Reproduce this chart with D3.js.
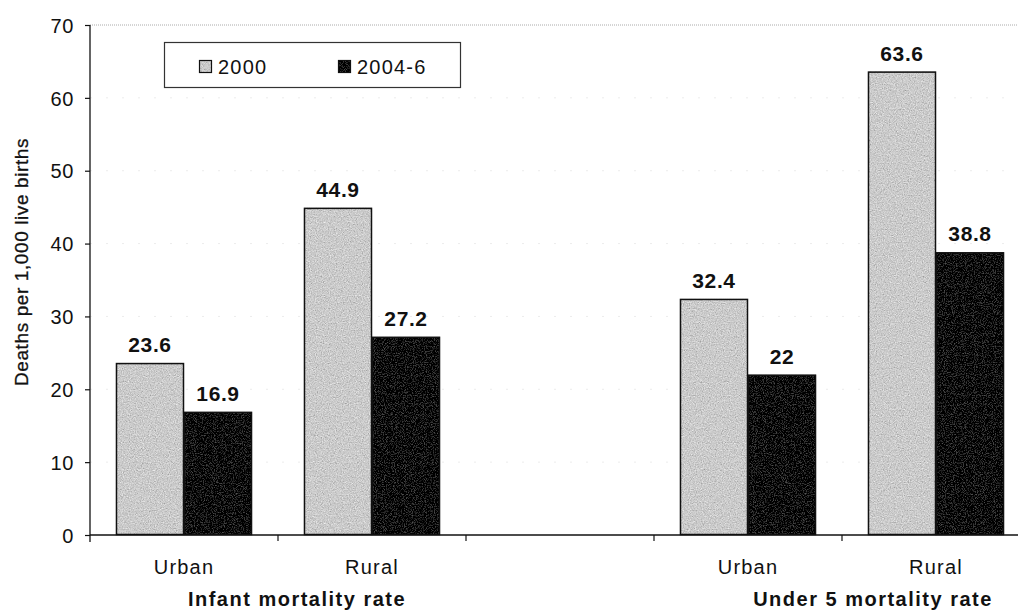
<!DOCTYPE html>
<html>
<head>
<meta charset="utf-8">
<script src="https://cdn.jsdelivr.net/npm/d3@7"></script>
<style>
  html, body { margin: 0; padding: 0; background: #fff; }
  svg { display: block; font-family: "Liberation Sans", Arial, Helvetica, sans-serif; }
</style>
</head>
<body>
<svg id="chart" width="1018" height="612"></svg>
<script>
// Mortality rates (deaths per 1,000 live births) by residence, two survey rounds
const series = ["2000", "2004-6"];
const slots = ["iUrban", "iRural", "gap", "uUrban", "uRural"];
const slotLabels = ["Urban", "Rural", "", "Urban", "Rural"];
const values2000 = [23.6, 44.9, null, 32.4, 63.6];
const values2004 = [16.9, 27.2, null, 22, 38.8];
const groups = ["Infant mortality rate", "Under 5 mortality rate"];
const groupSlots = [["iUrban", "iRural"], ["uUrban", "uRural"]];
const yTicks = [0, 10, 20, 30, 40, 50, 60, 70];
const yTitle = "Deaths per 1,000 live births";

const svg = d3.select("#chart");
const margin = { left: 90, top: 25, bottom: 535, right: 1030 };

const x = d3.scaleBand().domain(slots).range([margin.left, margin.right]).padding(0);
const xs = d3.scaleBand().domain(series).range([0, x.bandwidth()])
  .paddingInner(0).paddingOuter(0.382);
const y = d3.scaleLinear().domain([0, 70]).range([margin.bottom, margin.top]);

const fills = { "2000": "#cbcbcb", "2004-6": "#060606" };

// grain filters for the printed look of the bars
const defs = svg.append("defs");
function grain(id, freq, k3, k4, seed) {
  const f = defs.append("filter").attr("id", id)
    .attr("x", 0).attr("y", 0).attr("width", 1).attr("height", 1)
    .attr("filterUnits", "objectBoundingBox");
  f.append("feTurbulence").attr("type", "fractalNoise")
    .attr("baseFrequency", freq).attr("numOctaves", 3).attr("seed", seed).attr("result", "noise");
  f.append("feColorMatrix").attr("in", "noise").attr("type", "matrix")
    .attr("values", "0.33 0.33 0.33 0 0  0.33 0.33 0.33 0 0  0.33 0.33 0.33 0 0  0 0 0 0 1")
    .attr("result", "gray");
  f.append("feComposite").attr("in", "SourceGraphic").attr("in2", "gray")
    .attr("operator", "arithmetic").attr("k1", 0).attr("k2", 1).attr("k3", k3).attr("k4", k4)
    .attr("result", "mix");
  f.append("feComposite").attr("in", "mix").attr("in2", "SourceAlpha").attr("operator", "in");
}
grain("grainLight", 0.85, 1.0, -0.5, 4);
grain("grainDark", 0.9, 0.4, -0.2, 7);

// faint gridlines
svg.append("g").selectAll("line").data(yTicks.filter(d => d > 0 && d < 70)).join("line")
  .attr("x1", margin.left).attr("x2", 1018)
  .attr("y1", d => y(d)).attr("y2", d => y(d))
  .attr("stroke", "#ececec").attr("stroke-width", 1).attr("stroke-dasharray", "2,14");

// top border of the plot area
svg.append("line")
  .attr("x1", margin.left).attr("x2", 1018)
  .attr("y1", y(70)).attr("y2", y(70))
  .attr("stroke", "#aaa").attr("stroke-width", 1).attr("stroke-dasharray", "1,1");

// bars
const rows = [];
slots.forEach((s, i) => {
  if (values2000[i] != null) rows.push({ slot: s, key: "2000", v: values2000[i] });
  if (values2004[i] != null) rows.push({ slot: s, key: "2004-6", v: values2004[i] });
});

const bars = svg.append("g");
bars.selectAll("rect.fill").data(rows).join("rect")
  .attr("class", "fill")
  .attr("x", d => x(d.slot) + xs(d.key))
  .attr("y", d => y(d.v))
  .attr("width", xs.bandwidth())
  .attr("height", d => y(0) - y(d.v))
  .attr("fill", d => fills[d.key])
  .attr("filter", d => d.key === "2000" ? "url(#grainLight)" : "url(#grainDark)");
bars.selectAll("rect.edge").data(rows).join("rect")
  .attr("class", "edge")
  .attr("x", d => x(d.slot) + xs(d.key) + 0.5)
  .attr("y", d => y(d.v) + 0.5)
  .attr("width", xs.bandwidth() - 1)
  .attr("height", d => y(0) - y(d.v) - 1)
  .attr("fill", "none").attr("stroke", "#111").attr("stroke-width", 1.5);

// value labels
svg.append("g").selectAll("text").data(rows).join("text")
  .attr("x", d => x(d.slot) + xs(d.key) + xs.bandwidth() / 2)
  .attr("y", d => y(d.v) - 11)
  .attr("text-anchor", "middle")
  .attr("font-size", 21).attr("font-weight", "bold").attr("letter-spacing", 0.6)
  .attr("fill", "#111")
  .text(d => d.v);

// y axis
const yAxis = svg.append("g").attr("transform", `translate(${margin.left},0)`)
  .call(d3.axisLeft(y).tickValues(yTicks).tickSize(5).tickPadding(11).tickSizeOuter(0));
yAxis.select(".domain").attr("stroke", "#111").attr("stroke-width", 1.3)
  .attr("d", `M0,${margin.top}V${margin.bottom + 7}`);
yAxis.selectAll(".tick line").attr("stroke", "#111").attr("stroke-width", 1.2);
yAxis.selectAll(".tick text")
  .attr("font-size", 20).attr("letter-spacing", 0.6).attr("dy", "0.36em")
  .attr("font-family", "'Liberation Sans', Arial, sans-serif").attr("fill", "#111");

// x axis baseline with ticks between categories
const boundaries = slots.map(s => x(s)).slice(1);
svg.append("line")
  .attr("x1", margin.left).attr("x2", 1018)
  .attr("y1", y(0)).attr("y2", y(0))
  .attr("stroke", "#111").attr("stroke-width", 1.3);
svg.append("g").selectAll("line").data(boundaries).join("line")
  .attr("x1", d => d).attr("x2", d => d)
  .attr("y1", y(0)).attr("y2", y(0) + 6)
  .attr("stroke", "#111").attr("stroke-width", 1.2);

// category labels
svg.append("g").selectAll("text").data(slots.map((s, i) => ({ s, t: slotLabels[i] })).filter(d => d.t))
  .join("text")
  .attr("x", d => x(d.s) + x.bandwidth() / 2)
  .attr("y", 574)
  .attr("text-anchor", "middle")
  .attr("font-size", 20).attr("letter-spacing", 1.2).attr("fill", "#111")
  .text(d => d.t);

// group labels
const groupOffsets = [19, 31];
svg.append("g").selectAll("text").data(groups).join("text")
  .attr("x", (d, i) => x(groupSlots[i][1]) + groupOffsets[i])
  .attr("y", 606)
  .attr("text-anchor", "middle")
  .attr("font-size", 20).attr("font-weight", "bold").attr("letter-spacing", 1.5).attr("fill", "#111")
  .text(d => d);

// y axis title
svg.append("text")
  .attr("transform", "translate(28,262) rotate(-90)")
  .attr("text-anchor", "middle")
  .attr("font-size", 19).attr("letter-spacing", 0.6).attr("fill", "#111")
  .attr("stroke", "#111").attr("stroke-width", 0.3)
  .text(yTitle);

// legend
const lg = svg.append("g");
lg.append("rect").attr("x", 164.5).attr("y", 42.5).attr("width", 296).attr("height", 45)
  .attr("fill", "#fff").attr("stroke", "#333").attr("stroke-width", 1.2);
const legendX = [199, 338];
series.forEach((s, i) => {
  lg.append("rect").attr("x", legendX[i]).attr("y", 60).attr("width", 13).attr("height", 13)
    .attr("fill", fills[s]).attr("filter", i === 0 ? "url(#grainLight)" : "url(#grainDark)");
  lg.append("rect").attr("x", legendX[i] + 0.5).attr("y", 60.5).attr("width", 12).attr("height", 12)
    .attr("fill", "none").attr("stroke", "#111").attr("stroke-width", 1.2);
  lg.append("text").attr("x", legendX[i] + 19).attr("y", 74)
    .attr("font-size", 20).attr("letter-spacing", 1.2).attr("fill", "#111")
    .text(s);
});
</script>
</body>
</html>
